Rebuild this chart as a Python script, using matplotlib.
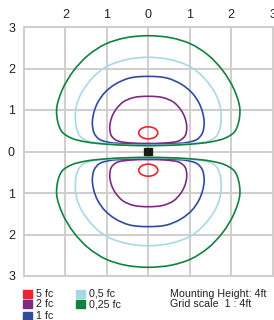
import matplotlib.pyplot as plt
from matplotlib.path import Path
from matplotlib.patches import PathPatch, Ellipse, Rectangle

plt.rcParams['font.family'] = ['Liberation Sans', 'DejaVu Sans']

# iso-lux curves, right half of the upper lobe, read from top (x=0) round to bottom (x=0)
levels = ['5 fc', '2 fc', '1 fc', '0,5 fc', '0,25 fc']
colors = ['#e8262b', '#7d2a83', '#2f4c9c', '#a9d8e5', '#12813f']

green_pts = [(0, 2.79), (0.55, 2.74), (1.03, 2.59), (1.45, 2.32), (1.8, 1.95), (2.07, 1.5),
             (2.21, 1.05), (2.18, 0.7), (2.08, 0.47), (1.85, 0.32), (1.5, 0.23),
             (1.0, 0.175), (0.5, 0.15), (0, 0.14)]
lblue_pts = [(0, 2.27), (0.5, 2.22), (1.0, 2.05), (1.32, 1.8), (1.59, 1.45), (1.72, 1.15),
             (1.76, 0.85), (1.73, 0.55), (1.63, 0.35), (1.42, 0.24), (1.0, 0.19),
             (0.5, 0.16), (0, 0.15)]
blue_pts = [(0, 1.81), (0.45, 1.77), (0.8, 1.62), (1.05, 1.42), (1.22, 1.18), (1.31, 0.95),
            (1.35, 0.7), (1.31, 0.45), (1.19, 0.3), (0.95, 0.22), (0.5, 0.185), (0, 0.175)]
purple_pts = [(0, 1.33), (0.35, 1.3), (0.61, 1.19), (0.79, 1.0), (0.89, 0.8), (0.93, 0.58),
              (0.89, 0.38), (0.75, 0.26), (0.4, 0.205), (0, 0.195)]
# 5 fc is a small ellipse: centre y, half width, half height
red_ellipse = (0.45, 0.23, 0.145)

xticks = [-3, -2, -1, 0, 1, 2, 3]
xlabels = ['', '2', '1', '0', '1', '2', '3']
yticks = [3, 2, 1, 0, -1, -2, -3]
ylabels = ['3', '2', '1', '0', '1', '2', '3']


def ctrl(p0, p1, p2, p3):
    # centripetal catmull-rom segment as bezier control points
    d1 = max(((p1[0] - p0[0]) ** 2 + (p1[1] - p0[1]) ** 2) ** 0.25, 1e-6)
    d2 = max(((p2[0] - p1[0]) ** 2 + (p2[1] - p1[1]) ** 2) ** 0.25, 1e-6)
    d3 = max(((p3[0] - p2[0]) ** 2 + (p3[1] - p2[1]) ** 2) ** 0.25, 1e-6)
    c1 = tuple((d1 * d1 * b - d2 * d2 * a + (2 * d1 * d1 + 3 * d1 * d2 + d2 * d2) * m)
               / (3 * d1 * (d1 + d2)) for a, m, b in zip(p0, p1, p2))
    c2 = tuple((d3 * d3 * m - d2 * d2 * b + (2 * d3 * d3 + 3 * d3 * d2 + d2 * d2) * a)
               / (3 * d3 * (d3 + d2)) for m, a, b in zip(p1, p2, p3))
    return c1, c2


def closed_curve(half, flip):
    pts = list(half) + [(-x, y) for x, y in half[-2:0:-1]]
    if flip:
        pts = [(x, -y) for x, y in pts]
    n = len(pts)
    verts = [pts[0]]
    codes = [Path.MOVETO]
    for i in range(n):
        c1, c2 = ctrl(pts[i - 1], pts[i], pts[(i + 1) % n], pts[(i + 2) % n])
        verts += [c1, c2, pts[(i + 1) % n]]
        codes += [Path.CURVE4] * 3
    return Path(verts, codes)


fig = plt.figure(figsize=(2.74, 3.2), dpi=100)
ax = fig.add_axes([24 / 274, 1 - 276 / 320, 248.5 / 274, 249 / 320])
ax.set_xlim(-3, 3)
ax.set_ylim(-3, 3)

ax.set_xticks(xticks)
ax.set_xticklabels(xlabels)
ax.set_yticks(yticks)
ax.set_yticklabels(ylabels)
ax.xaxis.tick_top()
ax.tick_params(length=0, labelsize=9, colors='#222222')
ax.tick_params(axis='x', pad=4.5)
ax.tick_params(axis='y', pad=6.5)
ax.grid(True, color='#d2cdcd', lw=1.4)
for s in ax.spines.values():
    s.set_color('#d2cdcd')
    s.set_linewidth(1.4)
ax.set_axisbelow(True)

for pts, c in zip([purple_pts, blue_pts, lblue_pts, green_pts], colors[1:]):
    for flip in (False, True):
        ax.add_patch(PathPatch(closed_curve(pts, flip), fill=False, ec=c, lw=1.2, zorder=3))

cy, rx, ry = red_ellipse
for sign in (1, -1):
    ax.add_patch(Ellipse((0, sign * cy), 2 * rx, 2 * ry, fill=False, ec=colors[0], lw=1.2, zorder=3))

ax.add_patch(Rectangle((-0.1, -0.075), 0.2, 0.16, color='#1a1a1a', zorder=4))

# legend below the grid
leg_pos = [(23, 293.7), (23, 304.3), (23, 315.7), (76, 293.7), (76, 304.3)]
for (px, py), lab, c in zip(leg_pos, levels, colors):
    fig.patches.append(Rectangle((px / 274, 1 - (py + 4) / 320), 9 / 274, 8 / 320,
                                 transform=fig.transFigure, color=c, figure=fig))
    fig.text((px + 13) / 274, 1 - py / 320, lab, fontsize=7.7, va='center', color='#222222')

fig.text(170 / 274, 1 - 293.7 / 320, 'Mounting Height: 4ft', fontsize=7.7, va='center', color='#222222')
fig.text(170 / 274, 1 - 304.3 / 320, 'Grid scale  1 : 4ft', fontsize=7.7, va='center', color='#222222')

fig.savefig('out.png', dpi=100)
